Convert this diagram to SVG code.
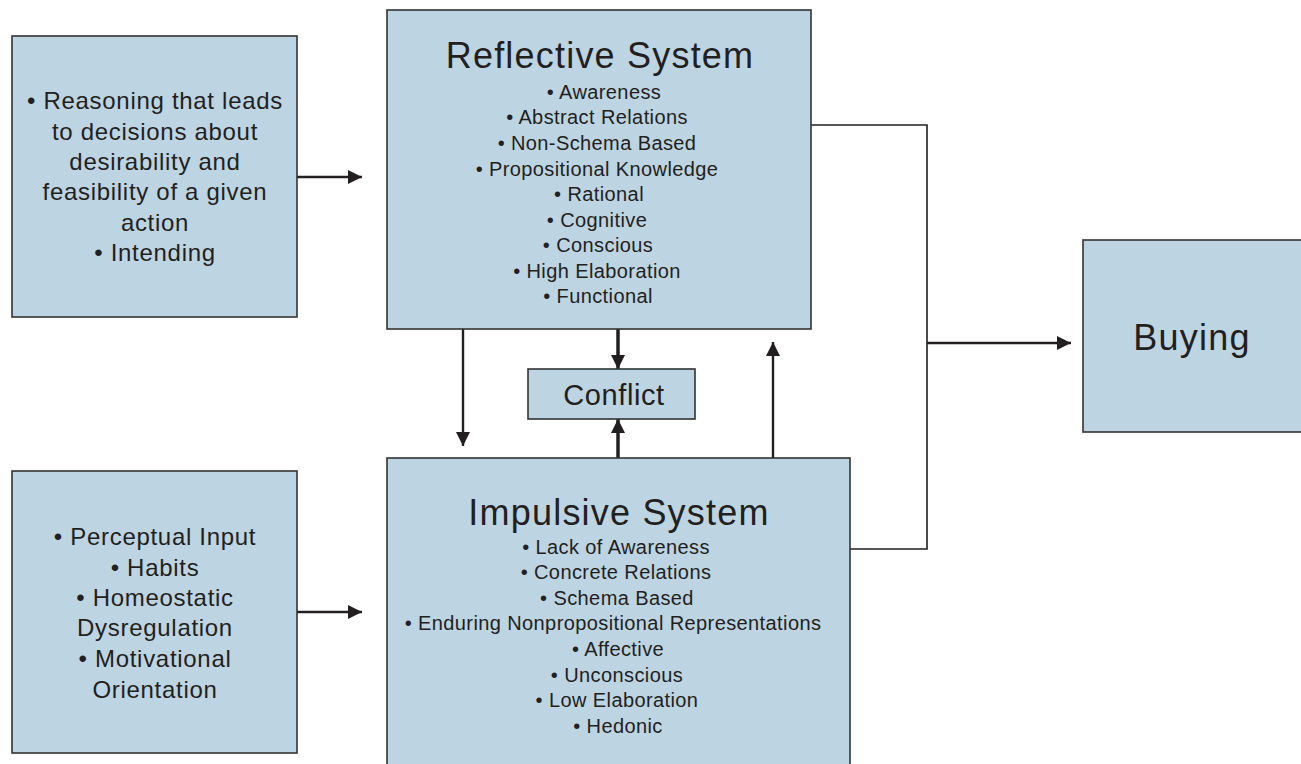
<svg xmlns="http://www.w3.org/2000/svg" width="1301" height="764" viewBox="0 0 1301 764">
<style>
.box{fill:#bdd4e2;stroke:#333;stroke-width:1.6}
text{font-family:"Liberation Sans",Arial,sans-serif;fill:#231f20;text-anchor:middle}
.t{font-size:36px;letter-spacing:1.2px}
.b{font-size:20px;letter-spacing:0.4px}
.s{font-size:24px;letter-spacing:0.7px}
.ln{fill:none;stroke:#231f20;stroke-width:1.6}
.ar{fill:none;stroke:#231f20;stroke-width:2.4}
.th{fill:none;stroke:#231f20;stroke-width:3.5}
</style>
<defs>
<marker id="ah" viewBox="0 0 10 10" refX="10" refY="5" markerWidth="14" markerHeight="14" markerUnits="userSpaceOnUse" orient="auto"><path d="M0,0L10,5L0,10z" fill="#231f20"/></marker>
</defs>
<rect width="1301" height="764" fill="#fff"/>
<g id="connectors">
<line class="ar" x1="297" y1="177" x2="362" y2="177" marker-end="url(#ah)"/>
<line class="ar" x1="297" y1="612" x2="362" y2="612" marker-end="url(#ah)"/>
<line class="ar" x1="463" y1="329" x2="463" y2="446" marker-end="url(#ah)"/>
<line class="th" x1="618" y1="329" x2="618" y2="369" marker-end="url(#ah)"/>
<line class="th" x1="618" y1="458" x2="618" y2="419" marker-end="url(#ah)"/>
<line class="ar" x1="773" y1="458" x2="773" y2="342" marker-end="url(#ah)"/>
<polyline class="ln" points="811,125 927,125 927,549 850,549"/>
<line class="ar" x1="927" y1="343" x2="1071" y2="343" marker-end="url(#ah)"/>
</g>
<g id="intending">
<rect class="box" x="12" y="36" width="285" height="281"/>
<text class="s" x="155" y="109">• Reasoning that leads</text>
<text class="s" x="155" y="140">to decisions about</text>
<text class="s" x="155" y="170">desirability and</text>
<text class="s" x="155" y="200">feasibility of a given</text>
<text class="s" x="155" y="231">action</text>
<text class="s" x="155" y="261">• Intending</text>
</g>
<g id="reflective">
<rect class="box" x="387" y="10" width="424" height="319"/>
<text class="t" x="600" y="68">Reflective System</text>
<text class="b" x="604" y="99">• Awareness</text>
<text class="b" x="597" y="124">• Abstract Relations</text>
<text class="b" x="597" y="150">• Non-Schema Based</text>
<text class="b" x="597" y="176">• Propositional Knowledge</text>
<text class="b" x="599" y="201">• Rational</text>
<text class="b" x="597" y="227">• Cognitive</text>
<text class="b" x="598" y="252">• Conscious</text>
<text class="b" x="597" y="278">• High Elaboration</text>
<text class="b" x="598" y="303">• Functional</text>
</g>
<g id="conflict">
<rect class="box" x="528" y="369" width="167" height="50"/>
<text x="614" y="405" style="font-size:29px;letter-spacing:0.6px">Conflict</text>
</g>
<g id="impulsive">
<rect class="box" x="387" y="458" width="463" height="310"/>
<text class="t" x="619" y="525">Impulsive System</text>
<text class="b" x="616" y="554">• Lack of Awareness</text>
<text class="b" x="616" y="579">• Concrete Relations</text>
<text class="b" x="617" y="605">• Schema Based</text>
<text class="b" x="613" y="630">• Enduring Nonpropositional Representations</text>
<text class="b" x="618" y="656">• Affective</text>
<text class="b" x="617" y="682">• Unconscious</text>
<text class="b" x="617" y="707">• Low Elaboration</text>
<text class="b" x="618" y="733">• Hedonic</text>
</g>
<g id="inputs">
<rect class="box" x="12" y="471" width="285" height="282"/>
<text class="s" x="155" y="545">• Perceptual Input</text>
<text class="s" x="155" y="576">• Habits</text>
<text class="s" x="155" y="606">• Homeostatic</text>
<text class="s" x="155" y="636">Dysregulation</text>
<text class="s" x="155" y="667">• Motivational</text>
<text class="s" x="155" y="698">Orientation</text>
</g>
<g id="buying">
<rect class="box" x="1083" y="240" width="222" height="192"/>
<text class="t" x="1192" y="350">Buying</text>
</g>
</svg>
